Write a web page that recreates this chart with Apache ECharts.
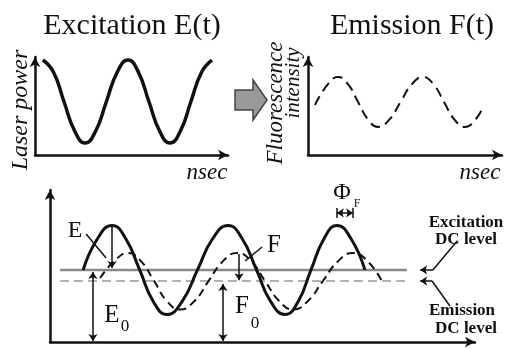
<!DOCTYPE html>
<html>
<head>
<meta charset="utf-8">
<script src="https://cdn.jsdelivr.net/npm/echarts@6/dist/echarts.min.js"></script>
<style>
  html, body { margin: 0; padding: 0; background: #fff; }
  #main { width: 505px; height: 349px; }
</style>
</head>
<body>
<div id="main"></div>
<script>
// top left: excitation E(t) (x: time 0-100, y: power 0-100)
var excTime  = [4.1, 9.6, 15.0, 20.5, 25.9, 31.5, 37.0, 42.6, 48.2, 53.6, 59.0, 64.5, 69.9, 75.4, 80.8, 86.3, 91.7];
var excPower = [96.9, 84.5, 54.6, 24.7, 12.2, 24.7, 54.6, 84.5, 96.9, 84.5, 54.6, 24.7, 12.2, 24.7, 54.6, 84.5, 96.9];

// top right: emission F(t)
var emTime  = [3.6, 10.2, 15.5, 20.7, 25.8, 31.0, 36.1, 41.9, 47.7, 53.5, 59.3, 64.7, 70.1, 75.5, 80.9, 86.3, 90.2];
var emInten = [51.0, 72.1, 79.6, 72.1, 54.1, 36.1, 28.6, 36.1, 54.1, 72.1, 79.6, 72.1, 54.1, 36.1, 28.6, 36.1, 49.0];

// bottom: both signals on one axis
var bExcTime = [7.8, 11.2, 14.6, 17.8, 21.1, 24.3, 27.5, 31.1, 34.7, 38.3, 41.9, 45.2, 48.6, 51.9, 55.3, 58.4, 61.4, 64.5, 67.5, 70.8, 74.1];
var bExcVal  = [47.4, 68.1, 76.7, 68.1, 47.4, 26.7, 18.1, 26.7, 47.4, 68.1, 76.7, 68.1, 47.4, 26.7, 18.1, 26.7, 47.4, 68.1, 76.7, 68.1, 47.4];
var bEmTime  = [11.8, 15.1, 18.4, 21.4, 24.5, 27.5, 30.6, 34.0, 37.3, 40.7, 44.0, 47.3, 50.6, 53.9, 57.2, 60.7, 64.2, 67.8, 71.3, 74.7, 78.1];
var bEmVal   = [42.1, 53.2, 58.6, 53.2, 40.1, 27.0, 21.4, 27.0, 40.1, 53.2, 58.6, 53.2, 40.1, 27.0, 21.4, 27.0, 40.1, 53.2, 58.6, 53.2, 40.1];

var dcSpan = [2.35, 84.0];
var excDC = 47.4;
var emDC = 40.1;

// annotation segments [x1, y1, x2, y2] in bottom-panel data units
var arrowSegs = [
  [14.6, 76.3, 14.6, 48.7],   // E
  [44.5, 57.9, 44.5, 40.6],   // F
  [90.1, 47.4, 87.1, 47.4],   // excitation DC pointer
  [89.9, 40.1, 87.1, 40.1]    // emission DC pointer
];
var doubleSegs = [
  [10.1, 46.1, 10.1, 0.7],    // E0
  [40.7, 38.2, 40.7, 0.7],    // F0
  [67.5, 84.9, 71.3, 84.9]    // phase
];
var plainSegs = [
  [8.5, 71.1, 13.2, 55.3],    // E leader
  [49.9, 62.5, 45.9, 53.3],   // F leader
  [95.8, 66.4, 90.1, 47.4],
  [94.1, 23.7, 89.9, 40.1],
  [67.5, 88.2, 67.5, 81.6],
  [71.3, 88.2, 71.3, 81.6]
];

function zip(a, b) {
  var out = [];
  for (var i = 0; i < a.length; i++) out.push([a[i], b[i]]);
  return out;
}

function seg(s, startSym, endSym) {
  return [
    { coord: [s[0], s[1]], symbol: startSym },
    { coord: [s[2], s[3]], symbol: endSym }
  ];
}

var markData = [];
arrowSegs.forEach(function (s) { markData.push(seg(s, 'none', 'arrow')); });
doubleSegs.forEach(function (s) { markData.push(seg(s, 'arrow', 'arrow')); });
plainSegs.forEach(function (s) { markData.push(seg(s, 'none', 'none')); });

function axis(idx) {
  return {
    gridIndex: idx, type: 'value', min: 0, max: 100,
    axisLine: {
      show: true, onZero: false,
      symbol: ['none', 'arrow'], symbolSize: [8, 10],
      lineStyle: { color: '#111', width: 2.5 }
    },
    axisTick: { show: false },
    axisLabel: { show: false },
    splitLine: { show: false }
  };
}

function txt(str, x, y, size, opts) {
  opts = opts || {};
  var font = [opts.style, opts.weight, size + 'px', 'Liberation Serif, serif']
    .filter(Boolean).join(' ');
  return {
    type: 'text', x: x, y: y, rotation: opts.rot || 0, z: 10,
    style: {
      text: str,
      font: font,
      fill: '#111',
      textAlign: opts.align || 'center',
      textVerticalAlign: 'middle'
    }
  };
}

var chart = echarts.init(document.getElementById('main'), null, { renderer: 'canvas' });

var option = {
  animation: false,
  backgroundColor: '#fff',
  grid: [
    { left: 35, top: 57, width: 193, height: 98 },
    { left: 308, top: 57, width: 194, height: 98 },
    { left: 50, top: 190, width: 425, height: 152 }
  ],
  xAxis: [axis(0), axis(1), axis(2)],
  yAxis: [axis(0), axis(1), axis(2)],
  series: [
    {
      name: 'E(t)', type: 'line', xAxisIndex: 0, yAxisIndex: 0,
      data: zip(excTime, excPower), smooth: true, symbol: 'none',
      lineStyle: { color: '#111', width: 3.5 }
    },
    {
      name: 'F(t)', type: 'line', xAxisIndex: 1, yAxisIndex: 1,
      data: zip(emTime, emInten), smooth: true, symbol: 'none',
      lineStyle: { color: '#111', width: 2, type: [10, 6] }
    },
    {
      name: 'Excitation DC', type: 'line', xAxisIndex: 2, yAxisIndex: 2,
      data: [[dcSpan[0], excDC], [dcSpan[1], excDC]], symbol: 'none',
      lineStyle: { color: '#888', width: 2.5 },
      markLine: {
        silent: true, symbolSize: 7,
        label: { show: false },
        lineStyle: { color: '#111', width: 1.5, type: 'solid' },
        data: markData
      }
    },
    {
      name: 'Emission DC', type: 'line', xAxisIndex: 2, yAxisIndex: 2,
      data: [[dcSpan[0], emDC], [dcSpan[1], emDC]], symbol: 'none',
      lineStyle: { color: '#999', width: 1.5, type: [9, 5] }
    },
    {
      name: 'E', type: 'line', xAxisIndex: 2, yAxisIndex: 2,
      data: zip(bExcTime, bExcVal), smooth: true, symbol: 'none',
      lineStyle: { color: '#111', width: 3 }
    },
    {
      name: 'F', type: 'line', xAxisIndex: 2, yAxisIndex: 2,
      data: zip(bEmTime, bEmVal), smooth: true, symbol: 'none',
      lineStyle: { color: '#111', width: 2, type: [8, 5] }
    }
  ],
  graphic: [
    txt('Excitation E(t)', 132, 26, 30),
    txt('Emission F(t)', 412, 26, 30),
    txt('Laser power', 21, 110, 24, { style: 'italic', rot: Math.PI / 2 }),
    txt('Fluorescence', 276, 103, 23, { style: 'italic', rot: Math.PI / 2 }),
    txt('intensity', 293, 83, 21, { style: 'italic', rot: Math.PI / 2 }),
    txt('nsec', 207, 173, 23, { style: 'italic' }),
    txt('nsec', 480, 173, 23, { style: 'italic' }),
    {
      type: 'polygon', z: 10,
      shape: { points: [[235, 90], [253, 90], [253, 80], [267, 100], [253, 120], [253, 110], [235, 110]] },
      style: { fill: '#9a9a9a', stroke: '#444', lineWidth: 1.5 }
    },
    txt('E', 75, 231, 24),
    txt('E', 112, 315, 25),
    txt('0', 125, 327, 17),
    txt('F', 274, 245, 25),
    txt('F', 242, 306, 25),
    txt('0', 255, 324, 17),
    txt('\u03A6', 342, 193, 24),
    txt('F', 357, 204, 12),
    txt('Excitation', 466, 223, 17, { weight: 'bold' }),
    txt('DC level', 466, 240, 17, { weight: 'bold' }),
    txt('Emission', 462, 311, 17, { weight: 'bold' }),
    txt('DC level', 466, 329, 17, { weight: 'bold' })
  ]
};

chart.setOption(option);
</script>
</body>
</html>
